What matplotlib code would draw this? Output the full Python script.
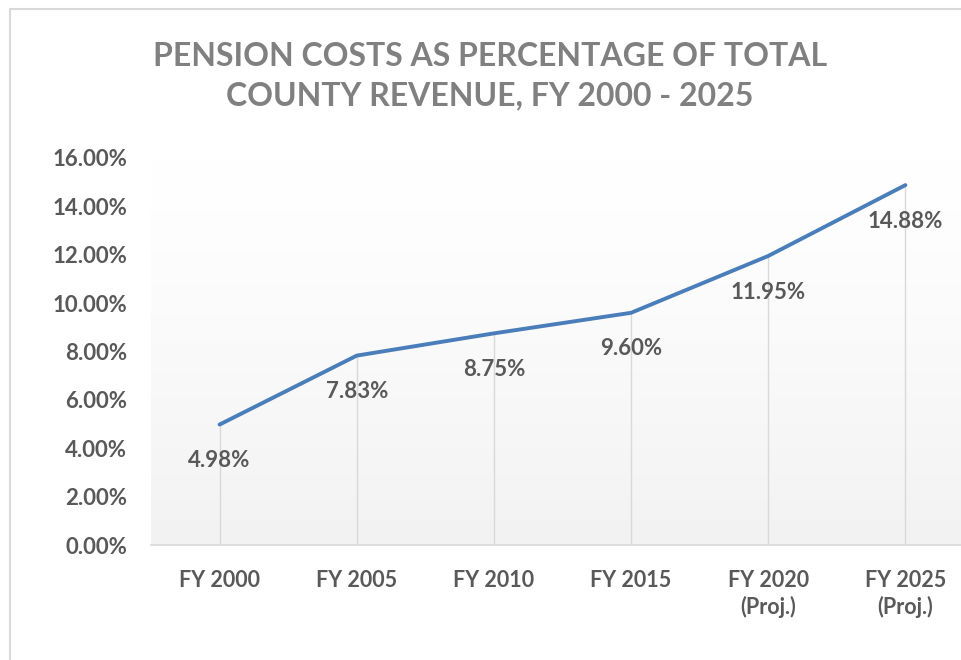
import matplotlib.pyplot as plt
import matplotlib.patches as patches
import numpy as np

categories = ['FY 2000', 'FY 2005', 'FY 2010', 'FY 2015', 'FY 2020\n(Proj.)', 'FY 2025\n(Proj.)']
values = [4.98, 7.83, 8.75, 9.60, 11.95, 14.88]
y_ticks = [0, 2, 4, 6, 8, 10, 12, 14, 16]

W, H = 961, 660
fig = plt.figure(figsize=(W / 100, H / 100), dpi=100)
plt.rcParams['font.family'] = ['Lato', 'DejaVu Sans']

# chart border
fig.patches.append(patches.Rectangle((10 / W, -0.1), 1.2, 1 - 9 / H + 0.1,
                                     transform=fig.transFigure, fill=False,
                                     edgecolor='#d9d9d9', linewidth=1.5))

left, right, top, bottom = 151, 974, 158, 545
ax = fig.add_axes([left / W, 1 - bottom / H, (right - left) / W, (bottom - top) / H])

x = np.arange(len(values))

# gradient background of the plot area (white on top, light gray at bottom)
grad = np.linspace(0, 1, 256) ** 1.3
col = 1 - grad * (1 - 0xf2 / 255)
img = np.dstack([col, col, col]).reshape(256, 1, 3)
ax.imshow(img, extent=[-0.5, len(values) - 0.5, 0, 16], aspect='auto', zorder=0)
ax.set_xlim(-0.5, len(values) - 0.5)
ax.set_ylim(0, 16)

# drop lines
ax.vlines(x, 0, values, color='#d9d9d9', linewidth=1, zorder=1)
ax.plot(x, values, color='#4a7ebb', linewidth=2.8, solid_capstyle='round', zorder=3)

for xi, v in zip(x, values):
    ax.annotate(f'{v:.2f}%', (xi, v), xytext=(0, -26), textcoords='offset points',
                ha='center', va='center', fontsize=16, fontweight='bold', color='#595959')

ax.set_xticks(x)
ax.set_xticklabels(categories, fontsize=15.5, fontweight='bold', color='#595959', linespacing=1.3)
ax.set_yticks(y_ticks)
ax.set_yticklabels([f'{t:.2f}%' for t in y_ticks], fontsize=16, fontweight='bold', color='#595959')
ax.tick_params(axis='both', length=0)
ax.tick_params(axis='x', pad=18)
ax.tick_params(axis='y', pad=17)
for s in ['top', 'right', 'left']:
    ax.spines[s].set_visible(False)
ax.spines['bottom'].set_color('#d9d9d9')
ax.spines['bottom'].set_linewidth(1.2)

fig.text(490 / W, 1 - 76 / H, 'PENSION COSTS AS PERCENTAGE OF TOTAL\nCOUNTY REVENUE, FY 2000 - 2025',
         ha='center', va='center', fontsize=23, fontweight='bold', color='#808080', linespacing=1.45)

fig.savefig('out.png', dpi=100)
